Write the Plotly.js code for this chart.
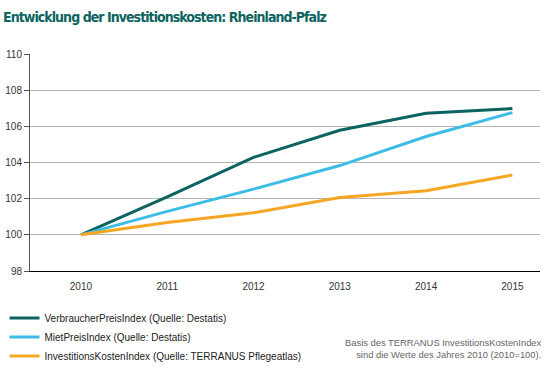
<!DOCTYPE html>
<html><head><meta charset="utf-8">
<script src="https://cdn.plot.ly/plotly-3.0.1.min.js"></script>
<style>html,body{margin:0;padding:0;background:#fff}#chart{width:545px;height:375px}
.gtitle{letter-spacing:-0.95px}</style>
</head><body><div id="chart"></div>
<script>
const years = [2010, 2011, 2012, 2013, 2014, 2015];
const vpi = [100, 102.1, 104.28, 105.78, 106.72, 106.98];
const mpi = [100, 101.3, 102.53, 103.83, 105.44, 106.76];
const iki = [100, 100.68, 101.22, 102.07, 102.44, 103.31];
const seriesNames = ['VerbraucherPreisIndex (Quelle: Destatis)', 'MietPreisIndex (Quelle: Destatis)', 'InvestitionsKostenIndex (Quelle: TERRANUS Pflegeatlas)'];
const colors = ['#0c6461', '#3dbde6', '#f6a623'];
const yTicks = [98, 100, 102, 104, 106, 108, 110];
const titleText = 'Entwicklung der Investitionskosten: Rheinland-Pfalz';
const noteText = 'Basis des TERRANUS InvestitionsKostenIndex<br>sind die Werte des Jahres 2010 (2010=100).';

const series = [vpi, mpi, iki];
const traces = series.map((s, i) => ({
  x: years, y: s, type: 'scatter', mode: 'lines', name: seriesNames[i],
  line: {color: colors[i], width: 3}
}));

const layout = {
  width: 545, height: 375,
  margin: {l: 28, r: 5, t: 54, b: 101},
  paper_bgcolor: '#fff', plot_bgcolor: '#fff',
  font: {family: 'Liberation Sans, Arial, sans-serif', size: 10, color: '#333'},
  title: {text: '<b>' + titleText + '</b>', x: 3 / 545, xanchor: 'left', xref: 'container', y: 0.955, yanchor: 'middle',
    font: {family: 'DejaVu Sans Condensed, Liberation Sans Narrow, Arial Narrow, sans-serif', size: 14, color: '#0c6461'}},
  xaxis: {range: [2009.41, 2015.32], tickvals: years, ticktext: years.map(String), showgrid: false, zeroline: false,
    showline: true, linecolor: '#000', linewidth: 1, ticks: '', ticklabelstandoff: 6, tickfont: {size: 10, color: '#333'}, fixedrange: true},
  yaxis: {range: [98, 110], tickvals: yTicks, showgrid: true, gridcolor: '#b4b4b4', gridwidth: 1, zeroline: false,
    showline: true, linecolor: '#555', linewidth: 1, ticks: 'outside', ticklen: 5, tickcolor: '#555',
    tickfont: {size: 10, color: '#333'}, fixedrange: true},
  showlegend: true,
  legend: {orientation: 'v', x: -0.05, xanchor: 'left', y: -0.15, yanchor: 'top', font: {size: 10, color: '#222'},
    tracegroupgap: 0, itemwidth: 30, bgcolor: 'rgba(0,0,0,0)'},
  annotations: [{text: noteText, xref: 'paper', yref: 'paper', x: 1.008, y: -0.295, xanchor: 'right', yanchor: 'top',
    align: 'right', showarrow: false, font: {size: 9.4, color: '#666'}}]
};
Plotly.newPlot('chart', traces, layout, {displayModeBar: false, staticPlot: true});
</script></body></html>
